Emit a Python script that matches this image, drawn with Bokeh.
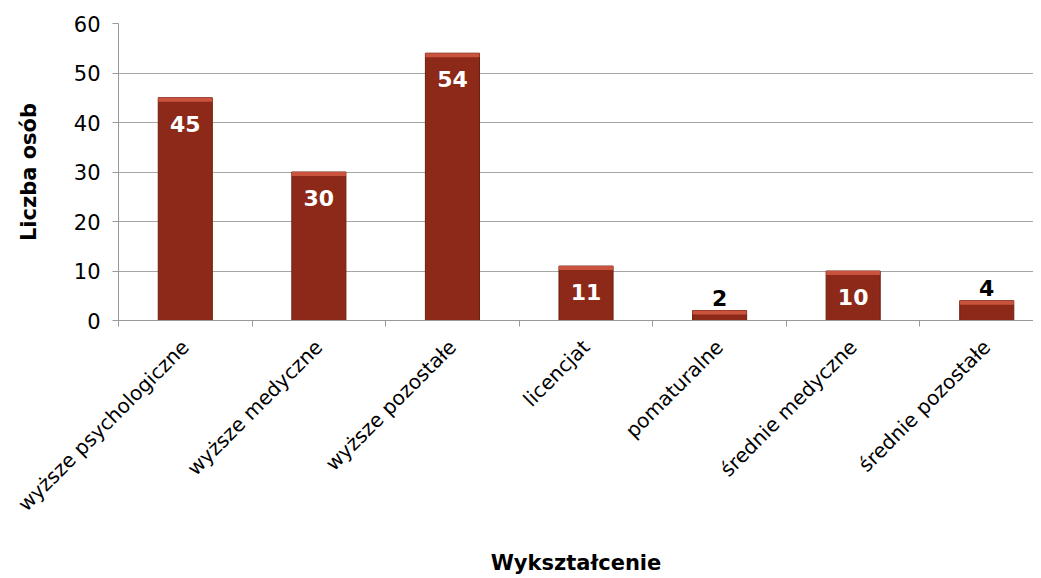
from bokeh.plotting import figure
from bokeh.models import ColumnDataSource, Range1d, FixedTicker
from bokeh.core.properties import value
from bokeh.embed import file_html
from bokeh.resources import INLINE

categories = ["wyższe psychologiczne", "wyższe medyczne", "wyższe pozostałe",
              "licencjat", "pomaturalne", "średnie medyczne", "średnie pozostałe"]
counts = [45, 30, 54, 11, 2, 10, 4]
y_ticks = [0, 10, 20, 30, 40, 50, 60]

FONT = "DejaVu Sans"

xs = [i + 0.5 for i in range(len(categories))]
inside = [c >= 5 for c in counts]
src = ColumnDataSource(dict(
    x=xs, top=counts,
    bevel_bottom=[c - 0.8 for c in counts],
    label=[str(c) for c in counts],
    color=["white" if i else "black" for i in inside],
    yoff=[26 if i else -13 for i in inside],
))

p = figure(width=1033, height=578, output_backend="svg", toolbar_location=None,
           x_range=Range1d(0, 6.85), y_range=Range1d(0, 60),
           min_border_left=118, min_border_right=0, min_border_top=23,
           min_border_bottom=258,
           background_fill_color="white", border_fill_color="white")
p.outline_line_color = None

# bars
p.vbar(x="x", top="top", bottom=0, width=0.405, source=src,
       fill_color="#8c2918", line_color="#6e1f12", line_width=1)
p.vbar(x="x", top="top", bottom="bevel_bottom", width=0.405, source=src,
       fill_color="#c9533c", line_color=None)

# labels
p.text(x="x", y="top", text="label", source=src, y_offset="yoff",
       text_color="color", text_align="center", text_baseline="middle",
       text_font=value(FONT), text_font_style="bold", text_font_size="22px")

# axes
p.xaxis.ticker = FixedTicker(ticks=xs, minor_ticks=list(range(len(categories) + 1)))
p.xaxis.major_label_overrides = {x: c for x, c in zip(xs, categories)}
p.xaxis.major_label_orientation = 0.785398
p.xaxis.major_tick_line_color = None
p.xaxis.minor_tick_out = 6
p.xaxis.minor_tick_in = 0
p.xaxis.minor_tick_line_color = "#999999"
p.xaxis.axis_line_color = "#999999"
p.xaxis.major_label_text_font = FONT
p.xaxis.major_label_text_font_size = "20px"
p.xaxis.major_label_text_color = "black"
p.xaxis.major_label_standoff = 17
p.xaxis.axis_label = "Wykształcenie"
p.xaxis.axis_label_text_font = FONT
p.xaxis.axis_label_text_font_style = "bold"
p.xaxis.axis_label_text_font_size = "21px"
p.xaxis.axis_label_text_color = "black"
p.xaxis.axis_label_standoff = 24

p.yaxis.ticker = FixedTicker(ticks=y_ticks)
p.yaxis.minor_tick_line_color = None
p.yaxis.major_tick_out = 6
p.yaxis.major_tick_in = 0
p.yaxis.major_tick_line_color = "#999999"
p.yaxis.axis_line_color = "#999999"
p.yaxis.major_label_text_font = FONT
p.yaxis.major_label_text_font_size = "21px"
p.yaxis.major_label_text_color = "black"
p.yaxis.major_label_standoff = 12
p.yaxis.axis_label = "Liczba osób"
p.yaxis.axis_label_text_font = FONT
p.yaxis.axis_label_text_font_style = "bold"
p.yaxis.axis_label_text_font_size = "21px"
p.yaxis.axis_label_text_color = "black"
p.yaxis.axis_label_standoff = 30

p.xgrid.grid_line_color = None
p.ygrid.grid_line_color = "#a6a6a6"
p.ygrid.grid_line_width = 1

open("out.html", "w").write(file_html(p, INLINE))
